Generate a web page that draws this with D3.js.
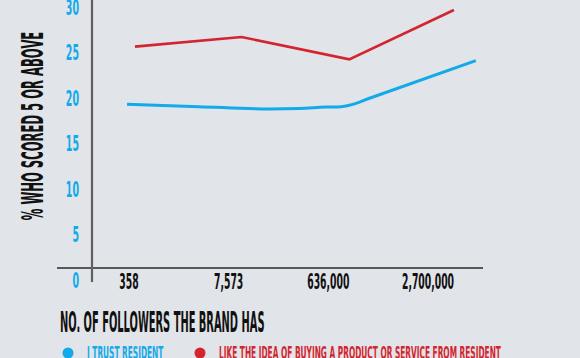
<!DOCTYPE html>
<html><head><meta charset="utf-8">
<script src="https://cdn.jsdelivr.net/npm/d3@7"></script>
<style>
html,body{margin:0;padding:0;background:#e1e4e8;}
svg{display:block;}
text{font-family:"Liberation Sans Narrow","DejaVu Sans Condensed","DejaVu Sans",sans-serif;font-weight:bold;}
</style></head>
<body><svg id="c" width="580" height="358"></svg>
<script>
// ---- data ----
const categories = ["358", "7,573", "636,000", "2,700,000"];
const yTicks = [0, 5, 10, 15, 20, 25, 30];
// position along the category axis (0 = first category) and value (%)
const trustX = [-0.02, 0.70, 1.41, 1.71, 1.97, 2.13, 2.21, 2.42, 3.48];
const trustY = [19.3, 19.05, 18.8, 18.85, 19.0, 19.05, 19.2, 20.0, 24.1];
const likeX = [0.06, 1.13, 2.21, 3.26];
const likeY = [25.65, 26.7, 24.25, 29.67];
const seriesNames = ["I TRUST RESIDENT", "LIKE THE IDEA OF BUYING A  PRODUCT OR SERVICE FROM RESIDENT"];
const yTitle = "% WHO SCORED 5 OR ABOVE";
const xTitle = "NO. OF FOLLOWERS THE BRAND HAS";

const BLUE = "#13aaea", RED = "#d3242f", INK = "#111";
const svg = d3.select("#c");
const x = d3.scaleLinear().domain([0, 3]).range([129, 428]);
const y = d3.scaleLinear().domain([0, 30]).range([280, 7]);

function squeeze(sel, k) {
  sel.each(function () {
    const w = this.getComputedTextLength();
    d3.select(this).attr("textLength", w * k).attr("lengthAdjust", "spacingAndGlyphs");
  });
}

// axes lines
svg.append("line").attr("x1", 57).attr("x2", 483).attr("y1", y(0) - 12).attr("y2", y(0) - 12)
  .attr("stroke", "#2a2a2a").attr("stroke-width", 1.6);
svg.append("line").attr("x1", 92).attr("x2", 92).attr("y1", 0).attr("y2", y(0) + 2)
  .attr("stroke", "#5f5f5f").attr("stroke-width", 2.2);

// y tick labels
svg.append("g").selectAll("text").data(yTicks).join("text")
  .attr("x", 79).attr("y", d => y(d)).attr("dy", "0.36em")
  .attr("text-anchor", "end").attr("fill", BLUE).attr("font-size", 21)
  .text(d => d).call(squeeze, 0.5);

// x tick labels
svg.append("g").selectAll("text").data(categories).join("text")
  .attr("x", (d, i) => x(i)).attr("y", y(0) + 1).attr("dy", "0.36em")
  .attr("text-anchor", "middle").attr("fill", INK).attr("font-size", 21)
  .text(d => d).call(squeeze, 0.49);

// y title
svg.append("text").attr("transform", "translate(43,126) rotate(-90)")
  .attr("text-anchor", "middle").attr("font-size", 30).attr("fill", INK)
  .text(yTitle).call(squeeze, 0.43);

// lines
const trust = trustX.map((v, i) => [v, trustY[i]]);
const like = likeX.map((v, i) => [v, likeY[i]]);
svg.append("path").datum(trust).attr("fill", "none").attr("stroke", BLUE).attr("stroke-width", 3)
  .attr("d", d3.line().x(d => x(d[0])).y(d => y(d[1])).curve(d3.curveMonotoneX));
svg.append("path").datum(like).attr("fill", "none").attr("stroke", RED).attr("stroke-width", 2.6)
  .attr("d", d3.line().x(d => x(d[0])).y(d => y(d[1])));

// x title
svg.append("text").attr("x", 60).attr("y", 332).attr("font-size", 28.5).attr("fill", INK)
  .text(xTitle).call(squeeze, 0.385);

// legend
const legX = [68, 200];
const legColors = [BLUE, RED];
const lg = svg.append("g").selectAll("g").data(seriesNames).join("g");
lg.append("circle").attr("cx", (d, i) => legX[i]).attr("cy", 353).attr("r", 5.5).attr("fill", (d, i) => legColors[i]);
lg.append("text").attr("x", (d, i) => legX[i] + 19).attr("y", 358.5).attr("font-size", 18.3)
  .attr("fill", (d, i) => legColors[i]).text(d => d).call(squeeze, 0.45);
</script></body></html>
